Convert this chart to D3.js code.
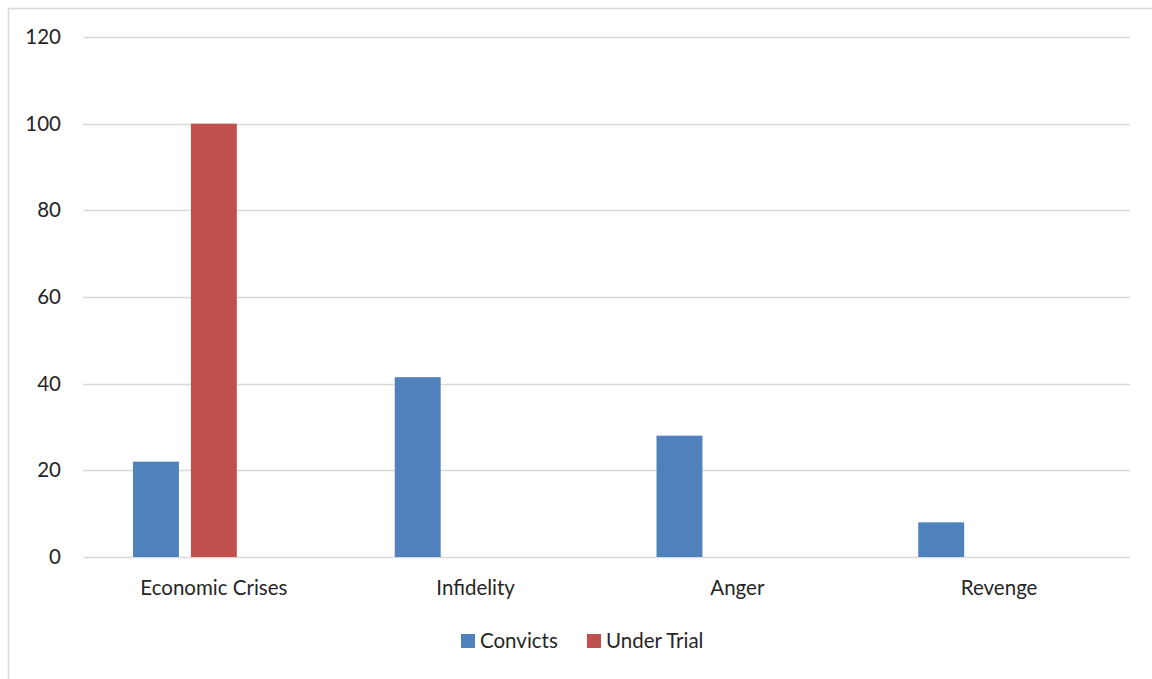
<!DOCTYPE html>
<html>
<head>
<meta charset="utf-8">
<script src="https://cdn.jsdelivr.net/npm/d3@7"></script>
<style>
  body { margin: 0; background: #fff; }
  svg text { font-family: Lato, "Open Sans", sans-serif; fill: #262626; }
</style>
</head>
<body>
<div id="chart"></div>
<script>
// data
var categories = ["Economic Crises", "Infidelity", "Anger", "Revenge"];
var seriesNames = ["Convicts", "Under Trial"];
var convicts = [22, 41.5, 28, 8];
var underTrial = [100, 0, 0, 0];
var yTicks = [0, 20, 40, 60, 80, 100, 120];
var colors = ["#4F81BD", "#C0504D"];

var W = 1152, H = 679;
var margin = {top: 37, right: 22, bottom: 122, left: 83},
    width = W - margin.left - margin.right,
    height = H - margin.top - margin.bottom;

var svg = d3.select("#chart").append("svg")
    .attr("width", W)
    .attr("height", H);

// chart area border (runs off the right and bottom edges)
svg.append("rect")
    .attr("x", 8.5).attr("y", 8.5)
    .attr("width", W + 20).attr("height", H + 20)
    .attr("fill", "none")
    .attr("stroke", "#d9d9d9")
    .attr("stroke-width", 1.5);

var g = svg.append("g")
    .attr("transform", "translate(" + margin.left + "," + margin.top + ")");

var x0 = d3.scaleBand().domain(categories).range([0, width]);
// three slots per category (the third series is empty in the source)
var x1 = d3.scaleBand().domain([0, 1, 2])
    .range([50, x0.bandwidth() - 50])
    .paddingInner(0.207);
var y = d3.scaleLinear().domain([0, 120]).range([height, 0]);

// gridlines
g.append("g")
    .selectAll("line")
    .data(yTicks)
  .enter().append("line")
    .attr("x1", 0).attr("x2", width)
    .attr("y1", function(d) { return Math.round(y(d)) + 0.5; })
    .attr("y2", function(d) { return Math.round(y(d)) + 0.5; })
    .attr("stroke", "#d9d9d9")
    .attr("stroke-width", 1.5);

// y axis labels
var yAxis = g.append("g")
    .call(d3.axisLeft(y).tickValues(yTicks).tickSize(0).tickPadding(22));
yAxis.select(".domain").remove();
yAxis.selectAll("text").attr("font-size", 20.5).style("font-family", null);

// bars
var seriesData = [convicts, underTrial];
seriesData.forEach(function(vals, si) {
  g.append("g").selectAll("rect")
      .data(vals.map(function(v, i) { return {cat: categories[i], value: v}; })
                .filter(function(d) { return d.value > 0; }))
    .enter().append("rect")
      .attr("x", function(d) { return x0(d.cat) + x1(si); })
      .attr("y", function(d) { return y(d.value); })
      .attr("width", x1.bandwidth())
      .attr("height", function(d) { return height - y(d.value); })
      .attr("fill", colors[si]);
});

// x axis labels
var xAxis = g.append("g")
    .attr("transform", "translate(0," + height + ")")
    .call(d3.axisBottom(x0).tickSize(0).tickPadding(23));
xAxis.select(".domain").remove();
xAxis.selectAll("text").attr("font-size", 20.5).style("font-family", null);

// legend
var legend = svg.append("g");
var legendX = [461, 587];
seriesNames.forEach(function(name, i) {
  var lg = legend.append("g").attr("transform", "translate(" + legendX[i] + ",634)");
  lg.append("rect")
      .attr("width", 14).attr("height", 14)
      .attr("fill", colors[i]);
  lg.append("text")
      .attr("x", 19).attr("y", 14)
      .attr("font-size", 20.5)
      .text(name);
});
</script>
</body>
</html>
